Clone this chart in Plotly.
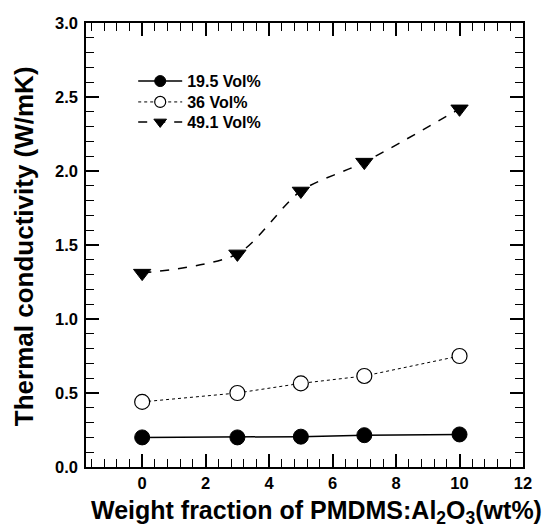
import plotly.graph_objects as go

weight_fraction = [0, 3, 5, 7, 10]
vol_19_5 = [0.20, 0.20, 0.205, 0.215, 0.22]
vol_36 = [0.44, 0.50, 0.565, 0.615, 0.75]
vol_49_1 = [1.31, 1.44, 1.865, 2.06, 2.42]
series_names = ["19.5 Vol%", "36 Vol%", "49.1 Vol%"]

x_title = "Weight fraction of PMDMS:Al<sub>2</sub>O<sub>3</sub>(wt%)"
y_title = "Thermal conductivity (W/mK)"

font_family = "Liberation Sans, Arial, sans-serif"

styles = [
    dict(line=dict(color="black", width=1.5, dash="solid"),
         symbol="circle", fill="black", lw=1),
    dict(line=dict(color="black", width=1, dash="dot"),
         symbol="circle", fill="white", lw=1.2),
    dict(line=dict(color="black", width=1.5, dash="dash", shape="spline", smoothing=0.8),
         symbol="triangle-down", fill="black", lw=1),
]
series_values = [vol_19_5, vol_36, vol_49_1]
legend_ids = ["legend", "legend2", "legend3"]

fig = go.Figure()
for name, vals, st in zip(series_names, series_values, styles):
    fig.add_trace(go.Scatter(
        x=weight_fraction, y=vals, name=name, mode="lines+markers",
        line=st["line"], showlegend=False,
        marker=dict(symbol=st["symbol"], size=15, color=st["fill"], line=dict(color="black", width=st["lw"])),
    ))
# legend entries with smaller symbols, as in the original figure
for name, st, lid in zip(series_names, styles, legend_ids):
    leg_line = {k: v for k, v in st["line"].items() if k not in ("shape", "smoothing")}
    fig.add_trace(go.Scatter(
        x=[None], y=[None], name=name, mode="lines+markers",
        line=leg_line, showlegend=True, legend=lid,
        marker=dict(symbol=st["symbol"], size=11, color=st["fill"], line=dict(color="black", width=st["lw"])),
    ))

axis_common = dict(
    showline=True, linecolor="black", linewidth=1.5, mirror="ticks",
    ticks="inside", ticklen=13, tickwidth=1.5, tickcolor="black",
    showgrid=False, zeroline=False,
    tickfont=dict(family=font_family, size=16.5, color="black", weight="bold"),
)

fig.update_xaxes(
    range=[-1.77, 12], tick0=0, dtick=2,
    minor=dict(ticks="inside", ticklen=8, tickwidth=1.2, tickcolor="black", dtick=0.4, tick0=0, showgrid=False),
    ticklabelstandoff=0,
    **axis_common,
)
fig.update_yaxes(
    range=[0, 3.0], tick0=0, dtick=0.5, tickformat=".1f",
    minor=dict(ticks="inside", ticklen=8, tickwidth=1.2, tickcolor="black", dtick=0.1, tick0=0, showgrid=False),
    ticklabelstandoff=3,
    **axis_common,
)

title_font = dict(family=font_family, size=25, color="black", weight="bold")
fig.add_annotation(text=x_title, xref="paper", yref="paper", x=0.527, y=-0.101,
                   xanchor="center", yanchor="middle", showarrow=False, font=title_font)
fig.add_annotation(text=y_title, xref="paper", yref="paper", x=-0.14, y=0.497,
                   xanchor="center", yanchor="middle", showarrow=False, textangle=-90,
                   font=dict(family=font_family, size=26, color="black", weight="bold"))

legend_style = dict(x=0.108, xanchor="left", yanchor="middle",
                    bgcolor="rgba(0,0,0,0)", borderwidth=0,
                    font=dict(family=font_family, size=16, color="black", weight="bold"),
                    tracegroupgap=0, itemwidth=44)

fig.update_layout(
    width=544, height=526,
    margin=dict(l=86, r=14, t=23, b=59),
    plot_bgcolor="white", paper_bgcolor="white",
    showlegend=True,
    legend=dict(y=0.869, **legend_style),
    legend2=dict(y=0.822, **legend_style),
    legend3=dict(y=0.777, **legend_style),
)

fig.write_html("out.html")
